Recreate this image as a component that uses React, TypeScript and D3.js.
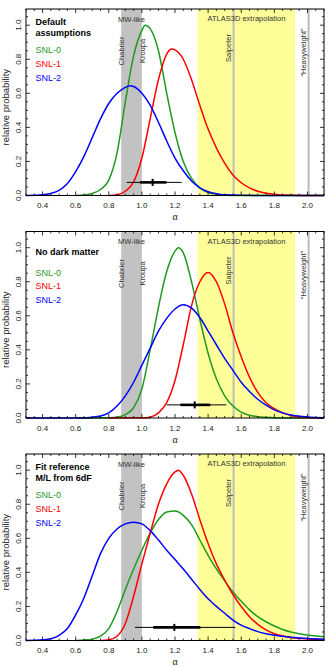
import React from "react";
import * as d3 from "d3";

// ---- data: [alpha, relative probability] ----
const defaultSnl0: [number, number][] = [
  [0.6, 0], [0.65, 0.003], [0.7, 0.012], [0.75, 0.035], [0.8, 0.09], [0.85, 0.25],
  [0.9, 0.55], [0.95, 0.82], [1.0, 0.97], [1.02, 1.0], [1.05, 0.98], [1.1, 0.85],
  [1.15, 0.6], [1.2, 0.37], [1.25, 0.2], [1.3, 0.1], [1.35, 0.045], [1.4, 0.018],
  [1.45, 0.007], [1.5, 0.002], [1.6, 0], [2.1, 0],
];
const defaultSnl1: [number, number][] = [
  [0.8, 0], [0.85, 0.005], [0.9, 0.025], [0.95, 0.08], [1.0, 0.22], [1.05, 0.45],
  [1.1, 0.68], [1.15, 0.83], [1.18, 0.86], [1.2, 0.855], [1.25, 0.8], [1.3, 0.68],
  [1.35, 0.53], [1.4, 0.39], [1.45, 0.28], [1.5, 0.19], [1.55, 0.12], [1.6, 0.075],
  [1.65, 0.045], [1.7, 0.025], [1.8, 0.007], [1.9, 0.001], [2.0, 0], [2.1, 0],
];
const defaultSnl2: [number, number][] = [
  [0.3, 0], [0.4, 0.004], [0.45, 0.012], [0.5, 0.03], [0.55, 0.07], [0.6, 0.14],
  [0.65, 0.23], [0.7, 0.34], [0.75, 0.45], [0.8, 0.54], [0.85, 0.6], [0.9, 0.635],
  [0.93, 0.645], [0.95, 0.64], [1.0, 0.6], [1.05, 0.53], [1.1, 0.43], [1.15, 0.32],
  [1.2, 0.22], [1.25, 0.145], [1.3, 0.085], [1.35, 0.045], [1.4, 0.022], [1.45, 0.01],
  [1.5, 0.004], [1.6, 0.001], [1.8, 0], [2.1, 0],
];

const noDmSnl0: [number, number][] = [
  [0.6, 0], [0.8, 0.002], [0.85, 0.005], [0.9, 0.02], [0.95, 0.06], [1.0, 0.17],
  [1.05, 0.4], [1.1, 0.65], [1.15, 0.86], [1.2, 0.98], [1.22, 1.0], [1.25, 0.97],
  [1.3, 0.8], [1.35, 0.58], [1.4, 0.38], [1.45, 0.23], [1.5, 0.13], [1.55, 0.07],
  [1.6, 0.035], [1.7, 0.008], [1.8, 0.002], [1.9, 0], [2.1, 0],
];
const noDmSnl1: [number, number][] = [
  [0.8, 0], [1.0, 0.001], [1.05, 0.005], [1.1, 0.03], [1.15, 0.09], [1.2, 0.22],
  [1.25, 0.43], [1.3, 0.66], [1.35, 0.8], [1.4, 0.855], [1.45, 0.8], [1.5, 0.67],
  [1.55, 0.5], [1.6, 0.36], [1.65, 0.24], [1.7, 0.15], [1.75, 0.09], [1.8, 0.055],
  [1.85, 0.03], [1.9, 0.015], [2.0, 0.003], [2.1, 0],
];
const noDmSnl2: [number, number][] = [
  [0.3, 0], [0.6, 0], [0.7, 0.005], [0.75, 0.012], [0.8, 0.03], [0.85, 0.07],
  [0.9, 0.13], [0.95, 0.21], [1.0, 0.31], [1.05, 0.41], [1.1, 0.51], [1.15, 0.585],
  [1.2, 0.64], [1.25, 0.665], [1.3, 0.645], [1.35, 0.59], [1.4, 0.51], [1.45, 0.43],
  [1.5, 0.35], [1.55, 0.28], [1.6, 0.21], [1.65, 0.155], [1.7, 0.11], [1.75, 0.075],
  [1.8, 0.048], [1.85, 0.03], [1.9, 0.018], [2.0, 0.006], [2.1, 0.002],
];

const fitSnl0: [number, number][] = [
  [0.6, 0], [0.65, 0.003], [0.7, 0.008], [0.75, 0.025], [0.8, 0.07], [0.85, 0.17],
  [0.9, 0.3], [0.95, 0.42], [1.0, 0.53], [1.05, 0.63], [1.1, 0.71], [1.15, 0.755],
  [1.2, 0.76], [1.25, 0.735], [1.3, 0.68], [1.35, 0.59], [1.4, 0.5], [1.45, 0.42],
  [1.5, 0.35], [1.55, 0.285], [1.6, 0.23], [1.65, 0.18], [1.7, 0.14], [1.75, 0.11],
  [1.8, 0.085], [1.85, 0.065], [1.9, 0.05], [1.95, 0.04], [2.0, 0.032], [2.1, 0.022],
];
const fitSnl1: [number, number][] = [
  [0.75, 0], [0.8, 0.004], [0.85, 0.025], [0.9, 0.1], [0.95, 0.26], [1.0, 0.45],
  [1.05, 0.63], [1.1, 0.8], [1.15, 0.92], [1.2, 0.99], [1.22, 1.0], [1.25, 0.97],
  [1.3, 0.86], [1.35, 0.71], [1.4, 0.57], [1.45, 0.45], [1.5, 0.355], [1.55, 0.27],
  [1.6, 0.2], [1.65, 0.14], [1.7, 0.095], [1.75, 0.062], [1.8, 0.04], [1.85, 0.027],
  [1.9, 0.018], [2.0, 0.009], [2.1, 0.005],
];
const fitSnl2: [number, number][] = [
  [0.3, 0], [0.4, 0.004], [0.45, 0.01], [0.5, 0.03], [0.55, 0.07], [0.6, 0.15],
  [0.65, 0.25], [0.7, 0.38], [0.75, 0.51], [0.8, 0.6], [0.85, 0.655], [0.9, 0.685],
  [0.95, 0.695], [1.0, 0.685], [1.05, 0.645], [1.1, 0.59], [1.15, 0.53], [1.2, 0.475],
  [1.25, 0.42], [1.3, 0.36], [1.35, 0.3], [1.4, 0.245], [1.45, 0.2], [1.5, 0.16],
  [1.55, 0.12], [1.6, 0.09], [1.65, 0.07], [1.7, 0.052], [1.75, 0.04], [1.8, 0.031],
  [1.85, 0.025], [1.9, 0.019], [1.95, 0.015], [2.0, 0.012], [2.1, 0.008],
];

// error bars: [thin lo, thick lo, best, thick hi, thin hi] and the height they sit at
const errDefault = [0.908, 0.988, 1.065, 1.149, 1.24];
const errNoDm = [1.15, 1.232, 1.319, 1.413, 1.51];
const errFit = [0.958, 1.069, 1.196, 1.353, 1.564];
const errLevel = 0.077;

const panelTitles = [["Default", "assumptions"], ["No dark matter"], ["Fit reference", "M/L from 6dF"]];
const seriesNames = ["SNL-0", "SNL-1", "SNL-2"];
const alphaTicks = [0.4, 0.6, 0.8, 1.0, 1.2, 1.4, 1.6, 1.8, 2.0];
const probTicks = [0, 0.2, 0.4, 0.6, 0.8, 1.0];
const mwBand = [0.875, 1.0];
const atlasBand = [1.337, 1.926];
const salpeter = 1.554;
const heavyweight = 2.007;

const panels = [
  { title: panelTitles[0], series: [defaultSnl0, defaultSnl1, defaultSnl2], err: errDefault },
  { title: panelTitles[1], series: [noDmSnl0, noDmSnl1, noDmSnl2], err: errNoDm },
  { title: panelTitles[2], series: [fitSnl0, fitSnl1, fitSnl2], err: errFit },
];

const colors = ["#1f9a1f", "#ff0000", "#0000ff"];
const font = "'Liberation Sans', Arial, Helvetica, sans-serif";

const x = d3.scaleLinear().domain([0.3, 2.1]).range([26, 324]);
const minorX = d3.range(0.3, 2.1001, 0.05);
const minorY = d3.range(0, 1.0501, 0.05);

function Panel({ top, p }: { top: number; p: typeof panels[0] }) {
  const bottom = top + 186.5;
  const y = d3.scaleLinear().domain([0, 1.095]).range([bottom, top]);
  const line = d3.line<[number, number]>()
    .x(d => x(d[0]))
    .y(d => y(d[1]))
    .curve(d3.curveMonotoneX);
  const [l, r] = x.range();
  const rotLabel = (txt: string, px: number, cy: number) => (
    <text transform={`translate(${px},${cy}) rotate(-90)`} textAnchor="middle" dy="0.35em"
      fontSize={7.5} fill="#333">{txt}</text>
  );
  const e = p.err;
  const ey = y(errLevel);
  return (
    <g fontFamily={font}>
      <rect x={x(atlasBand[0])} y={top} width={x(atlasBand[1]) - x(atlasBand[0])} height={bottom - top} fill="#ffff99" />
      <rect x={x(mwBand[0])} y={top} width={x(mwBand[1]) - x(mwBand[0])} height={bottom - top} fill="#c2c2c2" />
      <line x1={x(salpeter)} x2={x(salpeter)} y1={top} y2={bottom} stroke="#bbbbbb" strokeWidth={2} />
      <line x1={x(heavyweight)} x2={x(heavyweight)} y1={top} y2={bottom} stroke="#bbbbbb" strokeWidth={2} />

      <text x={(x(mwBand[0]) + x(mwBand[1])) / 2} y={top + 10} dy="0.35em" textAnchor="middle" fontSize={7.5} fill="#333">MW-like</text>
      <text x={(x(atlasBand[0]) + x(atlasBand[1])) / 2} y={top + 9.5} dy="0.35em" textAnchor="middle" fontSize={7.5} fill="#333">ATLAS3D extrapolation</text>
      {rotLabel("Chabrier", x(mwBand[0]), top + 42)}
      {rotLabel("Kroupa", x(mwBand[1]), top + 42)}
      {rotLabel("Salpeter", x(salpeter) - 5, top + 39)}
      {rotLabel("\u201cHeavyweight\u201d", x(heavyweight) - 5, top + 43.5)}

      {p.series.map((s, i) => (
        <path key={i} d={line(s) ?? ""} fill="none" stroke={colors[i]} strokeWidth={1.5} />
      ))}

      <line x1={x(e[0])} x2={x(e[4])} y1={ey} y2={ey} stroke="#000" strokeWidth={1} />
      <line x1={x(e[1])} x2={x(e[3])} y1={ey} y2={ey} stroke="#000" strokeWidth={2.6} />
      <line x1={x(e[2])} x2={x(e[2])} y1={ey - 3.5} y2={ey + 3.5} stroke="#000" strokeWidth={2} />

      {p.title.map((t, i) => (
        <text key={t} x={35.5} y={top + (p.title.length > 1 ? 13.3 : 20) + i * 11} dy="0.35em"
          fontSize={9} fontWeight="bold" fill="#000">{t}</text>
      ))}
      {seriesNames.map((n, i) => (
        <text key={n} x={35.5} y={top + 41 + i * 13.7} dy="0.35em" fontSize={9} fill={colors[i]}>{n}</text>
      ))}

      {/* ticks, inward on all four sides */}
      {minorX.map(v => {
        const major = alphaTicks.some(t => Math.abs(t - v) < 1e-6);
        const len = major ? 4 : 2;
        return (
          <g key={"x" + v} stroke="#000" strokeWidth={0.8}>
            <line x1={x(v)} x2={x(v)} y1={bottom} y2={bottom - len} />
            <line x1={x(v)} x2={x(v)} y1={top} y2={top + len} />
          </g>
        );
      })}
      {minorY.map(v => {
        const major = probTicks.some(t => Math.abs(t - v) < 1e-6);
        const len = major ? 4 : 2;
        return (
          <g key={"y" + v} stroke="#000" strokeWidth={0.8}>
            <line x1={l} x2={l + len} y1={y(v)} y2={y(v)} />
            <line x1={r} x2={r - len} y1={y(v)} y2={y(v)} />
          </g>
        );
      })}
      <rect x={l} y={top} width={r - l} height={bottom - top} fill="none" stroke="#000" strokeWidth={1} />

      {alphaTicks.map(t => (
        <text key={t} x={x(t)} y={bottom + 10} dy="0.35em" textAnchor="middle" fontSize={8} fill="#222">{t.toFixed(1)}</text>
      ))}
      {probTicks.map(t => (
        <text key={t} transform={`translate(18,${y(t)}) rotate(-90)`} dy="0.35em" textAnchor="middle" fontSize={8} fill="#222">{t.toFixed(1)}</text>
      ))}
      <text x={(l + r) / 2} y={bottom + 21} dy="0.35em" textAnchor="middle" fontSize={10}
        fontFamily="'Liberation Serif', serif" fill="#222">α</text>
      <text transform={`translate(6,${(top + bottom) / 2 + 5}) rotate(-90)`} dy="0.35em" textAnchor="middle"
        fontSize={9.5} fill="#222">relative probability</text>
    </g>
  );
}

export default function App() {
  const tops = [9, 231.5, 454];
  return (
    <svg width={334} height={667} style={{ position: "absolute", left: 0, top: 0, background: "#fff" }}>
      <rect width={334} height={667} fill="#fff" />
      {panels.map((p, i) => <Panel key={i} top={tops[i]} p={p} />)}
    </svg>
  );
}
